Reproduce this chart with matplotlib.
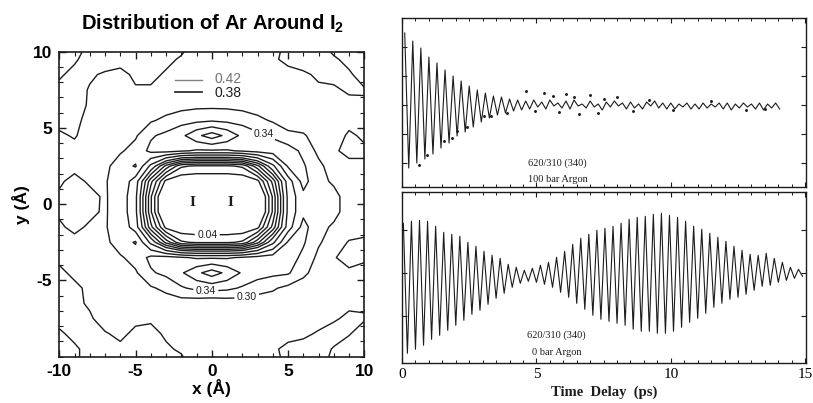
import numpy as np
import matplotlib
matplotlib.use("Agg")
import matplotlib.pyplot as plt
from matplotlib.ticker import MultipleLocator

# ---------------- Ar density around I2 (left panel) ----------------
# grid nodes in Angstrom; density values given in units of 0.01
x_nodes = [-10, -9, -8, -7, -6, -5, -4, -3, -2, -1, 0, 1, 2, 3, 4, 5, 6, 7, 8, 9, 10]
y_nodes = [10, 9.5, 8.5, 7.5, 6.5, 5.5, 4.5, 3.5, 2.5, 1.5, 0.5,
           -0.5, -1.5, -2.5, -3.5, -4.5, -5.5, -6.5, -7.5, -8.5, -9.5, -10]
density = [
    [28, 29, 31, 32, 32, 31.5, 31.5, 31, 30.5, 28, 27, 27, 27, 28, 29, 31, 32, 31.5, 29.5, 28, 28],
    [28, 29.5, 31.5, 32, 32, 31, 31.5, 31, 29.5, 28, 27.5, 27, 27.5, 28, 29.5, 30.8, 31.5, 31, 30.5, 29, 28],
    [29.5, 31, 30.5, 29.5, 28.5, 31, 31, 29.5, 28, 27.5, 27, 27, 27, 27.5, 29, 29, 29.5, 30.5, 31, 30.5, 28.5],
    [31, 31.5, 29.7, 28.5, 28, 29.5, 29.5, 28.5, 28, 27.5, 27.5, 27.5, 27.5, 28, 28, 28.5, 29, 29.5, 29.5, 30.5, 30.3],
    [31, 31, 29.7, 28.5, 28, 28, 28, 28, 28.5, 29, 29, 29, 28.5, 28, 28, 27, 27, 28, 28.5, 29, 29.5],
    [31, 30.8, 29, 28.5, 28, 28.5, 29.5, 31, 32.5, 33, 33.5, 33, 32.5, 31, 29.5, 28, 27.5, 28, 28, 29, 29],
    [29.5, 30.3, 28.5, 28, 28.5, 29.5, 33.5, 35, 37, 41, 44, 41, 37, 35, 33.5, 31, 30.5, 28, 28.5, 30.5, 29.5],
    [29.5, 29, 28.5, 28.5, 29.5, 31.5, 35, 35.5, 34.5, 33.5, 33.5, 33.5, 34.5, 35.5, 36, 36, 33, 29, 29.5, 31, 30.5],
    [29.5, 29, 28.5, 29, 32, 34.4, 25, 15, 7.5, 6.5, 6.5, 6.5, 7.5, 15, 25, 34.5, 34.5, 31, 28, 29, 29.5],
    [29.5, 31, 29.5, 29.5, 33, 28, 14, 3, 1.5, 1.5, 1.5, 1.5, 1.5, 3, 14, 28, 35.5, 31, 29.5, 28, 28],
    [30.5, 31.5, 31, 29.5, 32.5, 27, 10.5, -3, -15, -20, -20, -20, -15, -3, 10.5, 27, 33, 32, 31, 28.5, 28],
    [30.5, 31.5, 30.8, 29.5, 32.5, 27, 10.5, -3, -15, -20, -20, -20, -15, -3, 10.5, 27, 33, 32, 31, 28.5, 28.5],
    [29.5, 30.8, 29.5, 29.5, 33, 28, 14, 3, 1.5, 1.5, 1.5, 1.5, 1.5, 3, 14, 28, 35.5, 31, 29.5, 28, 29],
    [29.5, 29, 28.5, 29, 32, 34.4, 25, 15, 7.5, 6.5, 6.5, 6.5, 7.5, 15, 25, 34.5, 34.5, 30.5, 28, 30.3, 30.5],
    [29.5, 29, 28.5, 28.5, 29.5, 31.5, 35, 35.5, 34.5, 33.5, 33.5, 33.5, 34.5, 35.5, 36, 36, 33, 29, 29.8, 31, 30.5],
    [30.5, 29.5, 28.5, 28, 28.5, 29.5, 33.5, 35, 37.5, 41, 44, 41, 37.5, 36, 35, 34.5, 31, 28, 29, 29.5, 29],
    [31, 30.5, 29.5, 28.5, 28, 28.5, 29.5, 31, 33.5, 35, 35.5, 35, 33.5, 31.5, 30.5, 29, 28, 27.5, 28, 28.5, 29],
    [31, 30.5, 29.7, 28.5, 28, 28, 28, 28, 28, 27.5, 27, 27.5, 28, 28, 28, 28, 28, 28.5, 29, 29.5, 29.5],
    [31, 31, 30.3, 29, 28.5, 29.5, 29.5, 28.5, 28, 27.5, 27, 27, 27.5, 28, 28, 28, 28.5, 29, 29.7, 30.5, 30.3],
    [29.5, 30.8, 31, 30.2, 29.5, 30.5, 31, 29.5, 28.5, 28, 27.5, 27.5, 27.5, 28, 29.5, 29, 29.5, 30.3, 31, 30.2, 28.5],
    [28.5, 29.5, 31, 31, 30.5, 30.2, 31, 30.5, 29.5, 28, 27.5, 27.5, 27.5, 28, 29.5, 30.8, 31, 31, 29.8, 28.5, 28],
    [28, 29.5, 31, 31.5, 31, 31, 31.5, 31, 30.3, 28, 27, 27, 27, 27.5, 29, 31, 31.5, 31, 29.5, 28, 28],
]
plain_levels = [0.07, 0.10, 0.13, 0.16, 0.19, 0.22, 0.26, 0.38, 0.42]
labelled_levels = [0.04, 0.30, 0.34]
label_spots = [(3.4, 4.6), (-0.3, -2.1), (-0.4, -5.8), (2.3, -6.1)]
atom_x = [-1.25, 1.25]

# ---------------- pump-probe transients (right panels) ----------------
# turning points of each trace: time (ps) and signal (arb. units)
t_100bar = [0.10, 0.25, 0.40, 0.55, 0.70, 0.85, 1.00, 1.15, 1.30, 1.45,
            1.60, 1.75, 1.90, 2.05, 2.20, 2.35, 2.50, 2.65, 2.80, 2.95,
            3.10, 3.25, 3.40, 3.55, 3.70, 3.85, 4.00, 4.15, 4.30, 4.45,
            4.60, 4.75, 4.90, 5.05, 5.20, 5.35, 5.50, 5.65, 5.80, 5.95,
            6.10, 6.25, 6.40, 6.55, 6.70, 6.85, 7.00, 7.15, 7.30, 7.45,
            7.60, 7.75, 7.90, 8.05, 8.20, 8.35, 8.50, 8.65, 8.80, 8.95,
            9.10, 9.25, 9.40, 9.55, 9.70, 9.85, 10.00, 10.15, 10.30, 10.45,
            10.60, 10.75, 10.90, 11.05, 11.20, 11.35, 11.50, 11.65, 11.80, 11.95,
            12.10, 12.25, 12.40, 12.55, 12.70, 12.85, 13.00, 13.15, 13.30, 13.45,
            13.60, 13.75, 13.90, 14.05]
s_100bar = [72, -63, 64, -58, 57, -54, 48, -49, 42, -43,
            35, -38, 29, -31, 24, -27, 19, -22, 15, -17,
            12, -13, 9, -10, 8, -8, 6, -6, 5, -5,
            4, -4, 5, -2, 3, -4, 5, -1, 2, -3,
            4, -4, 5, -1, 1, -3, 4, -2, 1, -5,
            3, -2, 4, -1, 2, -4, 3, -3, 1, -4,
            3, -1, 4, -3, 2, -4, 2, -4, 1, -2,
            2, -4, 1, -4, 2, -3, 1, -2, 2, -4,
            2, -5, 1, -3, 2, -2, 1, -4, 2, -5,
            1, -3, 2, -4]
dots_t = [0.62, 0.92, 1.55, 1.85, 2.05, 2.42, 3.05, 3.30, 3.90, 4.60,
          4.95, 5.30, 5.60, 5.85, 6.10, 6.40, 6.60, 7.00, 7.30, 7.50,
          8.00, 8.60, 9.20, 10.10, 11.50, 12.80, 13.50]
dots_s = [-60, -50, -36, -33, -26, -22, -11, -11, -8, 14,
          -6, 12, 9, -7, 11, 8, -9, 10, -8, 6,
          8, -6, 5, -5, 4, -5, -4]

t_0bar = [0.05, 0.20, 0.35, 0.50, 0.65, 0.80, 0.95, 1.10, 1.25, 1.40,
          1.55, 1.70, 1.85, 2.00, 2.15, 2.30, 2.45, 2.60, 2.75, 2.90,
          3.05, 3.20, 3.35, 3.50, 3.65, 3.80, 3.95, 4.10, 4.25, 4.40,
          4.55, 4.70, 4.85, 5.00, 5.15, 5.30, 5.45, 5.60, 5.75, 5.90,
          6.05, 6.20, 6.35, 6.50, 6.65, 6.80, 6.95, 7.10, 7.25, 7.40,
          7.55, 7.70, 7.85, 8.00, 8.15, 8.30, 8.45, 8.60, 8.75, 8.90,
          9.05, 9.20, 9.35, 9.50, 9.65, 9.80, 9.95, 10.10, 10.25, 10.40,
          10.55, 10.70, 10.85, 11.00, 11.15, 11.30, 11.45, 11.60, 11.75, 11.90,
          12.05, 12.20, 12.35, 12.50, 12.65, 12.80, 12.95, 13.10, 13.25, 13.40,
          13.55, 13.70, 13.85, 14.00, 14.15, 14.30, 14.45, 14.60, 14.75, 14.90]
s_0bar = [50, -80, 52, -76, 53, -72, 52, -66, 47, -62,
          41, -57, 39, -52, 37, -47, 31, -41, 27, -37,
          22, -31, 18, -25, 15, -20, 9, -14, 6, -10,
          3, -8, 5, -9, 8, -11, 11, -14, 16, -19,
          22, -24, 29, -30, 35, -36, 39, -42, 43, -46,
          45, -48, 47, -50, 50, -52, 54, -56, 56, -58,
          57, -58, 59, -60, 60, -60, 58, -58, 56, -54,
          52, -49, 47, -45, 44, -40, 40, -34, 36, -30,
          32, -26, 27, -24, 23, -21, 19, -17, 18, -13,
          20, -12, 15, -9, 11, -7, 6, -5, 4, -3]

sans = ["Liberation Sans", "DejaVu Sans"]
serif = ["Liberation Serif", "DejaVu Serif"]
ink = "#1c1c1c"

plt.rcParams["axes.unicode_minus"] = False
plt.rcParams["mathtext.fontset"] = "custom"
plt.rcParams["mathtext.rm"] = "Liberation Sans"
plt.rcParams["mathtext.bf"] = "Liberation Sans:bold"

fig = plt.figure(figsize=(8.13, 4.03), dpi=100)

# --- contour map ---
ax = fig.add_axes([0.0729, 0.1149, 0.3752, 0.7568])
xg = np.array(x_nodes, dtype=float)
yg = np.array(y_nodes, dtype=float)[::-1]
zg = np.array(density, dtype=float)[::-1] / 100.0
ax.contour(xg, yg, zg, levels=plain_levels, colors=ink, linewidths=1.0)
cs_lab = ax.contour(xg, yg, zg, levels=labelled_levels, colors=ink, linewidths=1.0)
lbls = ax.clabel(cs_lab, manual=label_spots, inline=True,
                 inline_spacing=1, fontsize=7.5, fmt="%.2f")
for t in lbls:
    t.set_family(sans)
    t.set_rotation(0)

for xa in atom_x:
    ax.text(xa, 0.1, "I", family=serif, fontsize=11, fontweight="bold",
            ha="center", va="center", color=ink)

# little key for the two top contour levels
ax.plot([-2.4, -0.66], [8.16, 8.16], color="0.5", lw=1.0)
ax.plot([-2.4, -0.66], [7.36, 7.36], color=ink, lw=1.2)
ax.text(0.15, 8.2, "0.42", family=sans, fontsize=10, color="0.45", va="center")
ax.text(0.15, 7.3, "0.38", family=sans, fontsize=10, color=ink, va="center")

ax.set_xlim(-10, 10)
ax.set_ylim(-10, 10)
ax.set_xticks([-10, -5, 0, 5, 10])
ax.set_yticks([-5, 0, 5, 10])
ax.xaxis.set_minor_locator(MultipleLocator(1))
ax.yaxis.set_minor_locator(MultipleLocator(1))
ax.tick_params(which="both", direction="in", top=True, right=True, color=ink)
ax.tick_params(which="major", length=5, width=1.0, labelsize=12.5, pad=5)
ax.tick_params(which="minor", length=3, width=0.8)
for lab in ax.get_xticklabels() + ax.get_yticklabels():
    lab.set_family(sans)
    lab.set_fontweight("bold")
for sp in ax.spines.values():
    sp.set_linewidth(1.2)
    sp.set_color(ink)
ax.set_xlabel("x (Å)", family=sans, fontsize=12.5, fontweight="bold", labelpad=0)
ax.set_ylabel("y (Å)", family=sans, fontsize=12.5, fontweight="bold", labelpad=2)
fig.text(0.262, 0.942, r"Distribution of Ar Around I$_\mathbf{2}$", family=sans,
         fontsize=14.5, fontweight="bold", ha="center", va="center")

# --- transients ---
ax_top = fig.add_axes([0.4945, 0.5352, 0.4969, 0.4194])
ax_bot = fig.add_axes([0.4945, 0.1000, 0.4969, 0.4248])

ax_top.plot(t_100bar, s_100bar, color=ink, lw=0.8)
ax_top.plot(dots_t, dots_s, ".", color=ink, ms=2.2)
ax_bot.plot(t_0bar, s_0bar, color=ink, lw=0.8)

ax_top.set_ylim(-82.3, 86.7)
ax_bot.set_ylim(-89.4, 81.8)
ax_top.set_yticks([-58, -29, 0, 29, 58])
ax_bot.set_yticks([-43, 0, 43])
for a in (ax_top, ax_bot):
    a.set_xlim(0, 15.03)
    a.xaxis.set_major_locator(MultipleLocator(5))
    a.xaxis.set_minor_locator(MultipleLocator(0.5))
    a.tick_params(which="both", direction="in", top=True, right=True, color=ink)
    a.tick_params(which="major", length=3.5, width=0.8)
    a.tick_params(which="minor", length=2, width=0.7)
    a.tick_params(axis="y", labelleft=False)
    for sp in a.spines.values():
        sp.set_linewidth(1.0)
        sp.set_color(ink)
ax_top.tick_params(axis="x", labelbottom=False)
ax_bot.set_xticks([0, 5, 10, 15])
ax_bot.set_xticklabels(["0", "5", "10", "15"], family=serif, fontsize=11)
ax_bot.tick_params(axis="x", pad=4)

ax_top.text(4.68, -58.3, "620/310 (340)", family=serif, fontsize=7.5, va="center", color=ink)
ax_top.text(4.68, -74, "100 bar Argon", family=serif, fontsize=7.5, va="center", color=ink)
ax_bot.text(4.64, -61.7, "620/310 (340)", family=serif, fontsize=7.5, va="center", color=ink)
ax_bot.text(4.83, -79, "0 bar Argon", family=serif, fontsize=7.5, va="center", color=ink)
fig.text(604 / 813, 1 - 392 / 403, "Time  Delay  (ps)", family=serif, fontsize=10.5,
         fontweight="bold", ha="center", va="center", color=ink)

fig.savefig("out.png", dpi=100)
